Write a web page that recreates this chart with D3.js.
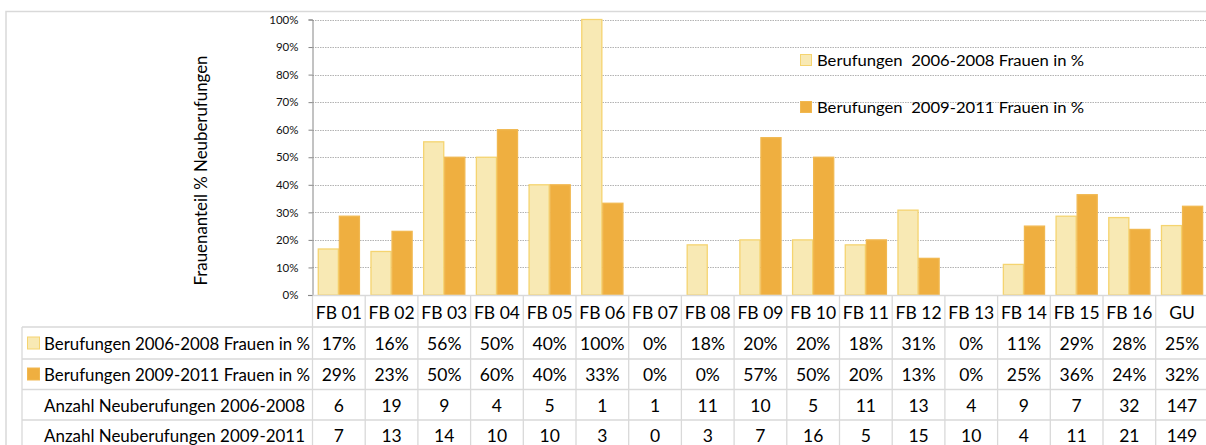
<!DOCTYPE html>
<html>
<head>
<meta charset="utf-8">
<script src="https://cdn.jsdelivr.net/npm/d3@7"></script>
<style>
  html, body { margin: 0; padding: 0; background: #fff; }
  svg { display: block; font-family: Lato, "Open Sans", sans-serif; }
</style>
</head>
<body>
<svg id="chart" width="1206" height="445"></svg>
<script>
// ---- data ----
const categories = ["FB 01","FB 02","FB 03","FB 04","FB 05","FB 06","FB 07","FB 08","FB 09","FB 10","FB 11","FB 12","FB 13","FB 14","FB 15","FB 16","GU"];
const seriesNames = ["Berufungen 2006-2008 Frauen in %", "Berufungen 2009-2011 Frauen in %"];
const share2006 = [16.7, 15.8, 55.6, 50, 40, 100, 0, 18.2, 20, 20, 18.2, 30.8, 0, 11.1, 28.6, 28.1, 25.2];
const share2009 = [28.6, 23.1, 50, 60, 40, 33.3, 0, 0, 57.1, 50, 20, 13.3, 0, 25, 36.4, 23.8, 32.2];
const count2006 = [6, 19, 9, 4, 5, 1, 1, 11, 10, 5, 11, 13, 4, 9, 7, 32, 147];
const count2009 = [7, 13, 14, 10, 10, 3, 0, 3, 7, 16, 5, 15, 10, 4, 11, 21, 149];
const countLabels = ["Anzahl Neuberufungen 2006-2008", "Anzahl Neuberufungen 2009-2011"];
const yTicks = [0, 10, 20, 30, 40, 50, 60, 70, 80, 90, 100];
const yTitle = "Frauenanteil % Neuberufungen";

// ---- styles ----
const fills = ["#F8E9B4", "#EFAF40"];
const strokes = ["#F5D470", "#F1B850"];
const gridCol = "#b3b3b3";
const tableLine = "#d9d9d9";
const ink = "#000";

const svg = d3.select("#chart");

// chart border
svg.append("path").attr("d", "M6,445 V11.5 H1206").attr("fill", "none")
  .attr("stroke", "#d9d9d9").attr("stroke-width", 1.5);

const x = d3.scaleBand().domain(categories).range([312.5, 312.5 + 17 * 52.7]).paddingInner(0).paddingOuter(0);
const x1 = d3.scaleBand().domain([0, 1]).range([0, x.bandwidth()]).paddingInner(0).paddingOuter(0.25);
const y = d3.scaleLinear().domain([0, 100]).range([295, 19.5]);

// gridlines
svg.append("g").selectAll("line").data(yTicks.filter(d => d > 0)).join("line")
  .attr("x1", 312.5).attr("x2", 1206)
  .attr("y1", d => Math.round(y(d)) + 0.5).attr("y2", d => Math.round(y(d)) + 0.5)
  .attr("stroke", gridCol).attr("stroke-width", 1).attr("stroke-dasharray", "1.5,1");

// y axis
const yAxis = d3.axisLeft(y).tickValues(yTicks).tickFormat(d => d + "%").tickSize(4).tickPadding(10);
const gy = svg.append("g").attr("transform", "translate(312.5,0)").call(yAxis);
gy.select(".domain").attr("stroke", "#868686");
gy.selectAll(".tick line").attr("stroke", "#868686");
gy.selectAll(".tick text").attr("font-size", 11.5).attr("fill", "#111").attr("font-family", "Lato, sans-serif");

// y title
svg.append("text").attr("transform", "translate(207,170.5) rotate(-90)")
  .attr("text-anchor", "middle").attr("font-size", 16.5).attr("fill", ink)
  .attr("textLength", 230).attr("lengthAdjust", "spacingAndGlyphs").text(yTitle);

// bars
const seriesVals = [share2006, share2009];
seriesVals.forEach((vals, si) => {
  svg.append("g").selectAll("rect").data(categories.map((c, i) => ({ c, v: vals[i] })).filter(d => d.v > 0)).join("rect")
    .attr("x", d => x(d.c) + x1(si) + 0.5)
    .attr("y", d => y(d.v))
    .attr("width", x1.bandwidth() - 1)
    .attr("height", d => y(0) - y(d.v))
    .attr("fill", fills[si]).attr("stroke", strokes[si]).attr("stroke-width", 1.3);
});

// x axis line
svg.append("line").attr("x1", 308).attr("x2", 1206).attr("y1", 295.5).attr("y2", 295.5)
  .attr("stroke", tableLine).attr("stroke-width", 1.3);
svg.append("line").attr("x1", 308).attr("x2", 312.5).attr("y1", 295.5).attr("y2", 295.5)
  .attr("stroke", "#868686");

// top legend
const legY = [54, 101];
seriesNames.forEach((n, i) => {
  svg.append("rect").attr("x", 800.5).attr("y", legY[i] + 0.5).attr("width", 11).attr("height", 11)
    .attr("fill", fills[i]).attr("stroke", strokes[i]);
  svg.append("text").attr("x", 817).attr("y", legY[i] + 11.5).attr("font-size", 15.5).attr("fill", ink)
    .attr("textLength", 267).attr("lengthAdjust", "spacingAndGlyphs")
    .text(n.replace("Berufungen ", "Berufungen\u00a0 "));
});

// ---- data table ----
const rowEdges = [295, 327, 359, 389.5, 420, 451];
const xEdges = categories.map(c => x(c)).concat([x(categories[categories.length - 1]) + x.bandwidth()]);
const tg = svg.append("g");
rowEdges.slice(1).forEach(yy => {
  tg.append("line").attr("x1", 22).attr("x2", 1206).attr("y1", yy).attr("y2", yy)
    .attr("stroke", tableLine).attr("stroke-width", 1.3);
});
tg.append("line").attr("x1", 22).attr("x2", 22).attr("y1", 327).attr("y2", 451).attr("stroke", tableLine).attr("stroke-width", 1.3);
xEdges.forEach(xx => {
  tg.append("line").attr("x1", xx).attr("x2", xx).attr("y1", 296).attr("y2", 451)
    .attr("stroke", tableLine).attr("stroke-width", 1.3);
});

const baselines = [318.5, 349.5, 380.5, 411.5, 442];
const fmtPct = v => Math.round(v) + "%";
tg.selectAll("text.hdr").data(categories).join("text").attr("class", "hdr")
  .attr("x", d => x(d) + x.bandwidth() / 2).attr("y", baselines[0])
  .attr("text-anchor", "middle").attr("font-size", 17.5).attr("fill", ink)
  .text(d => d);
const rows = [share2006.map(fmtPct), share2009.map(fmtPct), count2006.map(String), count2009.map(String)];
rows.forEach((r, ri) => {
  tg.selectAll("text.r" + ri).data(r).join("text").attr("class", "r" + ri)
    .attr("x", (d, i) => x(categories[i]) + x.bandwidth() / 2).attr("y", baselines[ri + 1])
    .attr("text-anchor", "middle").attr("font-size", 17.5).attr("fill", ink)
    .text(d => d);
});
const rowLabels = [seriesNames[0], seriesNames[1], countLabels[0], countLabels[1]];
const labelWidths = [266, 266, 261, 261];
rowLabels.forEach((l, ri) => {
  tg.append("text").attr("x", 44).attr("y", baselines[ri + 1]).attr("font-size", 17.5)
    .attr("fill", ink).attr("textLength", labelWidths[ri]).attr("lengthAdjust", "spacingAndGlyphs").text(l);
  if (ri < 2) {
    tg.append("rect").attr("x", 27.5).attr("y", baselines[ri + 1] - 12.5).attr("width", 12).attr("height", 12)
      .attr("fill", fills[ri]).attr("stroke", strokes[ri]);
  }
});
</script>
</body>
</html>
